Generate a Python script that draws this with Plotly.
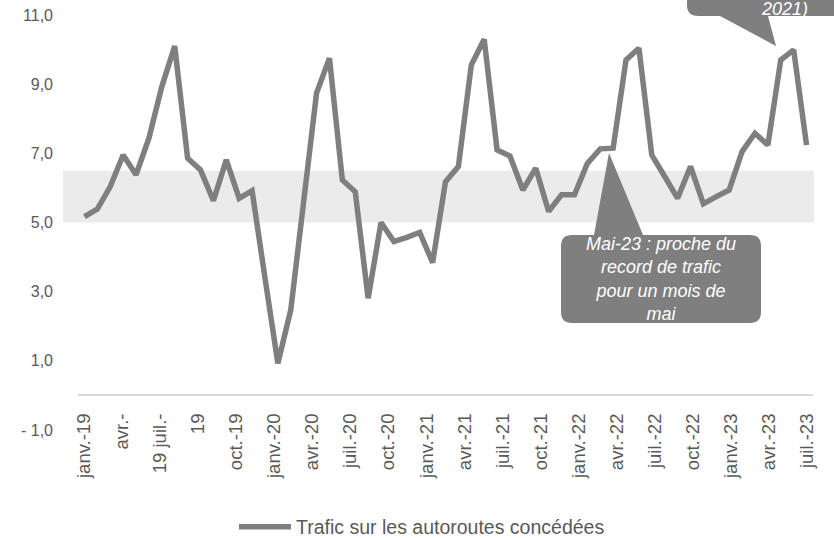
import plotly.graph_objects as go
import pandas as pd

# ---- data ----
months = [d.strftime("%b-%y") for d in pd.date_range("2019-01-01", periods=57, freq="MS")]
traffic = [5.17, 5.39, 6.04, 6.95, 6.38, 7.44, 8.93, 10.10, 6.86, 6.52, 5.63, 6.81,
           5.70, 5.92, 3.40, 0.93, 2.47, 5.73, 8.74, 9.75, 6.23, 5.89, 2.81, 5.00,
           4.45, 4.57, 4.71, 3.84, 6.18, 6.62, 9.55, 10.30, 7.10, 6.92, 5.94, 6.57,
           5.32, 5.80, 5.80, 6.71, 7.13, 7.15, 9.70, 10.04, 6.95, 6.33, 5.70, 6.62,
           5.54, 5.75, 5.94, 7.05, 7.58, 7.24, 9.70, 9.99, 7.24]
tick_labels = ["janv.-19", "avr.-", "19 juil.-", "19", "oct.-19",
               "janv.-20", "avr.-20", "juil.-20", "oct.-20",
               "janv.-21", "avr.-21", "juil.-21", "oct.-21",
               "janv.-22", "avr.-22", "juil.-22", "oct.-22",
               "janv.-23", "avr.-23", "juil.-23"]
y_tick_vals = [-1, 1, 3, 5, 7, 9, 11]
y_tick_text = ["- 1,0", "1,0", "3,0", "5,0", "7,0", "9,0", "11,0"]
band_low, band_high = 5.0, 6.5
series_name = "Trafic sur les autoroutes concédées"
callout_1 = "Mai-23 : proche du<br>record de trafic<br>pour un mois de<br>mai"
callout_2 = "2021)"

# ---- layout helpers ----
W, H = 834, 538
L, R, T, B = 78, 21, 15, 108
PW, PH = W - L - R, H - T - B


def px(xp):
    return (xp - L) / PW


def py(yp):
    return (H - B - yp) / PH


def rounded_box_with_pointer(x0, y0, x1, y1, r, bx0, bx1, ax, ay, pointer_top=True):
    """SVG path (paper coords) for a rounded rectangle with a wedge pointer."""
    X0, X1 = px(x0), px(x1)
    Y0, Y1 = py(y0), py(y1)  # y0 top pixel, y1 bottom pixel
    rx, ry = r / PW, r / PH
    BX0, BX1, AX, AY = px(bx0), px(bx1), px(ax), py(ay)
    parts = [f"M{X0 + rx},{Y0}"]
    if pointer_top:
        parts += [f"L{BX0},{Y0}", f"L{AX},{AY}", f"L{BX1},{Y0}"]
    parts += [f"L{X1 - rx},{Y0}", f"Q{X1},{Y0} {X1},{Y0 - ry}",
              f"L{X1},{Y1 + ry}", f"Q{X1},{Y1} {X1 - rx},{Y1}"]
    if not pointer_top:
        parts += [f"L{BX1},{Y1}", f"L{AX},{AY}", f"L{BX0},{Y1}"]
    parts += [f"L{X0 + rx},{Y1}", f"Q{X0},{Y1} {X0},{Y1 + ry}",
              f"L{X0},{Y0 - ry}", f"Q{X0},{Y0} {X0 + rx},{Y0}", "Z"]
    return " ".join(parts)


idx = list(range(len(traffic)))
n_ticks = len(tick_labels)
tick_pos = [i * (len(traffic) - 1) / (n_ticks - 1) for i in range(n_ticks)]

FONT = "Liberation Sans, Arial, sans-serif"
TXT = "#595959"
GREY = "#7f7f7f"

fig = go.Figure()
fig.add_trace(go.Scatter(
    x=idx, y=traffic, customdata=months, mode="lines", name=series_name,
    line=dict(color=GREY, width=5.5),
    hovertemplate="%{customdata}: %{y:.1f}<extra></extra>",
))

fig.add_shape(type="rect", xref="paper", yref="y", x0=px(63), x1=px(814),
              y0=band_low, y1=band_high, fillcolor="#ebebeb", line_width=0,
              layer="below")

# callout 1 (pointer up to the line)
fig.add_shape(type="path", xref="paper", yref="paper",
              path=rounded_box_with_pointer(561, 235, 761, 323, 11, 594, 643, 609, 153, True),
              fillcolor=GREY, line_width=0, layer="above")
fig.add_annotation(xref="paper", yref="paper", x=px(661), y=py(279), text=f"<i>{callout_1}</i>",
                   showarrow=False, font=dict(family=FONT, size=18, color="white"),
                   align="center", xanchor="center", yanchor="middle")

# callout 2 (top right, partly cut off; pointer down)
fig.add_shape(type="path", xref="paper", yref="paper",
              path=rounded_box_with_pointer(687, -60, 900, 16, 11, 720, 768, 776, 46, False),
              fillcolor=GREY, line_width=0, layer="above")
fig.add_annotation(xref="paper", yref="paper", x=px(810), y=py(9), text=f"<i>{callout_2}</i>",
                   showarrow=False, font=dict(family=FONT, size=18, color="white"),
                   xanchor="right", yanchor="middle")

fig.update_layout(
    width=W, height=H,
    margin=dict(l=L, r=R, t=T, b=B, pad=0, autoexpand=False),
    paper_bgcolor="white", plot_bgcolor="white",
    font=dict(family=FONT, color=TXT),
    showlegend=True,
    legend=dict(orientation="h", xref="container", yref="container",
                x=422 / W, xanchor="center", y=1 - 527 / H, yanchor="middle",
                font=dict(family=FONT, size=19.5, color=TXT), itemwidth=52,
                bgcolor="rgba(0,0,0,0)"),
    xaxis=dict(range=[-0.5, len(traffic) - 0.5], anchor="free", position=1 / 12,
               automargin=False,
               showline=True, linecolor="#d9d9d9", linewidth=1.5,
               showgrid=False, zeroline=False, ticks="",
               tickmode="array", tickvals=tick_pos, ticktext=tick_labels,
               tickangle=-90, tickfont=dict(family=FONT, size=18.5, color=TXT),
               ticklabelstandoff=10),
    yaxis=dict(range=[-1, 11], automargin=False,
               showgrid=False, zeroline=False, showline=False,
               tickmode="array", tickvals=y_tick_vals, ticktext=y_tick_text,
               ticks="", tickfont=dict(family=FONT, size=16, color=TXT),
               ticklabelstandoff=24),
)

fig.write_html("out.html", config={"displayModeBar": False},
               post_script="document.body.style.margin='0';document.body.style.overflow='hidden';")
